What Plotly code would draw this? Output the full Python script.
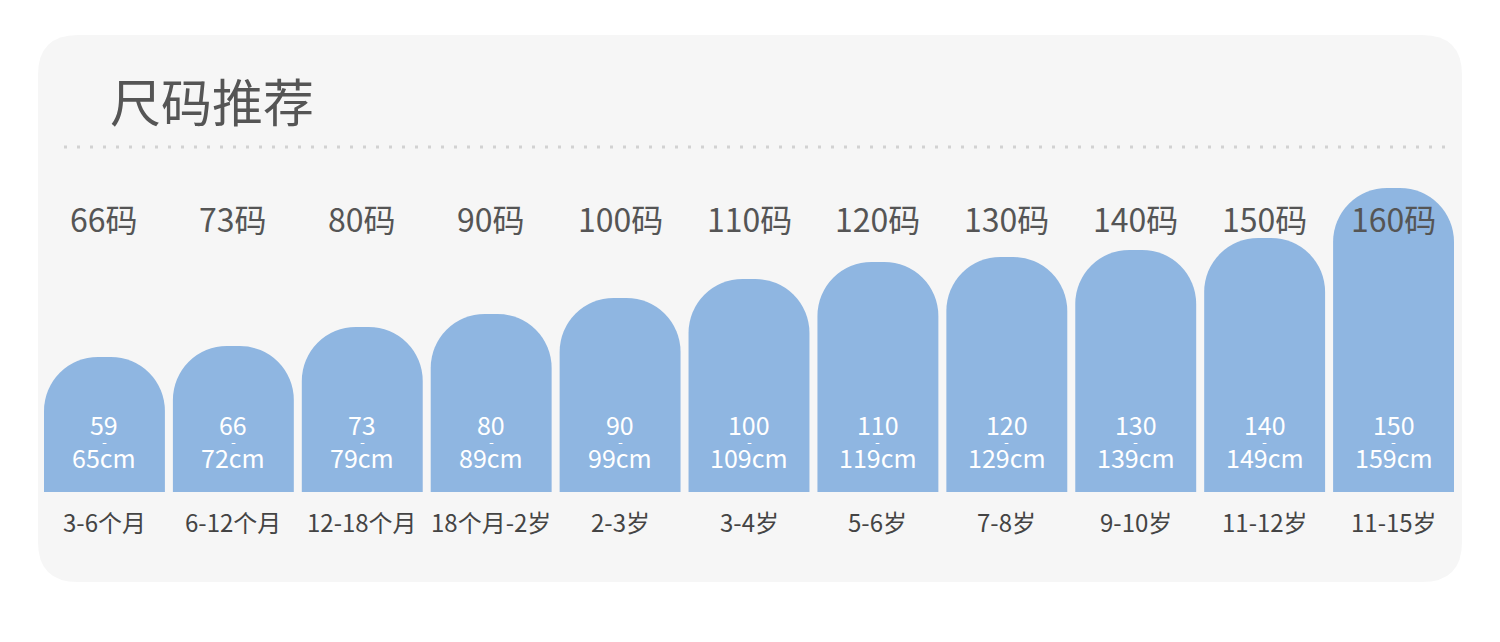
import plotly.graph_objects as go

W, H = 1500, 642
OFF = 8  # page body margin shifts the figure

# size chart data
size_labels = ["66码", "73码", "80码", "90码", "100码", "110码",
               "120码", "130码", "140码", "150码", "160码"]
height_low = [59, 66, 73, 80, 90, 100, 110, 120, 130, 140, 150]
height_high = [65, 72, 79, 89, 99, 109, 119, 129, 139, 149, 159]
age_labels = ["3-6个月", "6-12个月", "12-18个月", "18个月-2岁", "2-3岁", "3-4岁",
              "5-6岁", "7-8岁", "9-10岁", "11-12岁", "11-15岁"]
bar_heights = [135, 146, 165, 178, 194, 213, 230, 235, 242, 254, 304]

BAR_COLOR = "#8fb6e1"
PANEL_COLOR = "#f6f6f6"
FONT = "Noto Sans CJK SC"


def px(x):
    return (x - OFF) / W


def py(y):
    return 1 - (y - OFF) / H


def rounded_rect(x0, y0, x1, y1, r):
    # path in paper coords, pixel inputs
    rx, ry = r / W, r / H
    a, b, c, d = px(x0), py(y0), px(x1), py(y1)
    return (f"M {a + rx},{b} L {c - rx},{b} Q {c},{b} {c},{b - ry} "
            f"L {c},{d + ry} Q {c},{d} {c - rx},{d} "
            f"L {a + rx},{d} Q {a},{d} {a},{d + ry} "
            f"L {a},{b - ry} Q {a},{b} {a + rx},{b} Z")


fig = go.Figure()
fig.add_trace(go.Bar(
    x=size_labels, y=bar_heights,
    marker=dict(color=BAR_COLOR, line=dict(width=0), cornerradius=54),
    hoverinfo="skip",
))

annotations = []
# title
annotations.append(dict(
    x=px(108), y=py(100), xref="paper", yref="paper", xanchor="left", yanchor="middle",
    text="尺码推荐", showarrow=False, font=dict(family=FONT, size=51, color="#555555")))

for i, lab in enumerate(size_labels):
    annotations.append(dict(x=lab, y=274, text=lab, showarrow=False, yanchor="middle",
                            font=dict(family=FONT, size=32, color="#555555")))
    # height range inside the bar, dash sits between the two lines
    annotations.append(dict(x=lab, y=52, text=f"{height_low[i]}<br>{height_high[i]}cm",
                            showarrow=False, yanchor="middle",
                            font=dict(family=FONT, size=25, color="white")))
    annotations.append(dict(x=lab, y=51, text="-", showarrow=False,
                            yanchor="middle", font=dict(family=FONT, size=14, color="white")))
    annotations.append(dict(x=lab, xref="x", y=py(521), yref="paper", text=age_labels[i],
                            showarrow=False, yanchor="middle",
                            font=dict(family=FONT, size=24, color="#444444")))

shapes = [
    dict(type="path", xref="paper", yref="paper", layer="below",
         path=rounded_rect(38, 35, 1462, 582, 40),
         fillcolor=PANEL_COLOR, line=dict(width=0)),
    dict(type="line", xref="paper", yref="paper", layer="below",
         x0=px(64), x1=px(1452), y0=py(147), y1=py(147),
         line=dict(color="#d2d2d2", width=3, dash="3px,10px")),
]

fig.update_layout(
    width=W, height=H,
    margin=dict(l=0, r=0, t=0, b=0),
    paper_bgcolor="white", plot_bgcolor="rgba(0,0,0,0)",
    showlegend=False, bargap=0.062,
    xaxis=dict(domain=[px(40), px(1458)], visible=False, range=[-0.5, 10.5]),
    yaxis=dict(domain=[py(492), py(150)], visible=False, range=[0, 342]),
    annotations=annotations, shapes=shapes,
)

fig.write_html("out.html")
